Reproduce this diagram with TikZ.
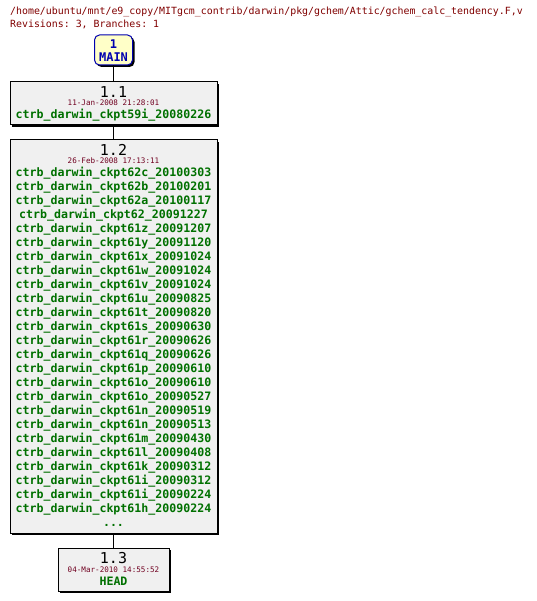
\documentclass[tikz,border=0pt]{standalone}
\usepackage{fontspec}
\setmonofont{DejaVu Sans Mono}
\usetikzlibrary{shadows}
\definecolor{hdrred}{HTML}{800000}
\definecolor{datered}{HTML}{700020}
\definecolor{taggreen}{HTML}{007000}
\definecolor{mainblue}{HTML}{0000B0}
\definecolor{mainfill}{HTML}{FFFFC8}
\definecolor{boxfill}{HTML}{F0F0F0}
\tikzset{
  revbox/.style={draw=black, line width=1pt, fill=boxfill, inner sep=0pt,
    drop shadow={shadow xshift=2pt, shadow yshift=-2pt, fill=black, opacity=1}},
  mainbox/.style={draw=mainblue, line width=1pt, fill=mainfill, rounded corners=5pt, inner sep=0pt,
    drop shadow={shadow xshift=2pt, shadow yshift=-2pt, fill=black, opacity=1}},
  hdr/.style={font=\ttfamily\fontsize{9.9}{10}\selectfont, text=hdrred, inner sep=0pt, anchor=west},
  revnum/.style={font=\ttfamily\fontsize{15}{15}\selectfont, inner sep=0pt},
  datetxt/.style={font=\ttfamily\fontsize{7.6}{8}\selectfont, text=datered, inner sep=0pt},
  tagtxt/.style={font=\ttfamily\bfseries\fontsize{11.6}{12}\selectfont, text=taggreen, inner sep=0pt},
  maintxt/.style={font=\ttfamily\bfseries\fontsize{12}{12}\selectfont, text=mainblue, inner sep=0pt},
  link/.style={draw=black, line width=1pt}
}
\begin{document}
\begin{tikzpicture}[x=1pt, y=-1pt]
\useasboundingbox (0,0) rectangle (536,601);
\node[hdr] (h1) at (10,12) {/home/ubuntu/mnt/e9\_copy/MITgcm\_contrib/darwin/pkg/gchem/Attic/gchem\_calc\_tendency.F,v};
\node[hdr] (h2) at (10,24.5) {Revisions: 3, Branches: 1};
% MAIN
\node[mainbox, minimum width=38pt, minimum height=30pt] (main) at (113.5,50) {};
\node[maintxt] (mainnum) at (113.5,44.5) {1};
\node[maintxt] (mainname) at (113.5,57) {MAIN};
% 1.1
\node[revbox, minimum width=207pt, minimum height=43pt] (r11) at (113.5,103.5) {};
\node[revnum] (r11n) at (113.5,92.5) {1.1};
\node[datetxt] (r11d) at (113.5,102.7) {11-Jan-2008 21:28:01};
\node[tagtxt] (r11t) at (113.5,115) {ctrb\_darwin\_ckpt59i\_20080226};
% 1.2
\node[revbox, minimum width=207pt, minimum height=393pt] (r12) at (113.5,336.5) {};
\node[revnum] (r12n) at (113.5,150) {1.2};
\node[datetxt] (r12d) at (113.5,161) {26-Feb-2008 17:13:11};
\foreach [count=\i from 0] \t in {
ctrb\_darwin\_ckpt62c\_20100303,
ctrb\_darwin\_ckpt62b\_20100201,
ctrb\_darwin\_ckpt62a\_20100117,
ctrb\_darwin\_ckpt62\_20091227,
ctrb\_darwin\_ckpt61z\_20091207,
ctrb\_darwin\_ckpt61y\_20091120,
ctrb\_darwin\_ckpt61x\_20091024,
ctrb\_darwin\_ckpt61w\_20091024,
ctrb\_darwin\_ckpt61v\_20091024,
ctrb\_darwin\_ckpt61u\_20090825,
ctrb\_darwin\_ckpt61t\_20090820,
ctrb\_darwin\_ckpt61s\_20090630,
ctrb\_darwin\_ckpt61r\_20090626,
ctrb\_darwin\_ckpt61q\_20090626,
ctrb\_darwin\_ckpt61p\_20090610,
ctrb\_darwin\_ckpt61o\_20090610,
ctrb\_darwin\_ckpt61o\_20090527,
ctrb\_darwin\_ckpt61n\_20090519,
ctrb\_darwin\_ckpt61n\_20090513,
ctrb\_darwin\_ckpt61m\_20090430,
ctrb\_darwin\_ckpt61l\_20090408,
ctrb\_darwin\_ckpt61k\_20090312,
ctrb\_darwin\_ckpt61i\_20090312,
ctrb\_darwin\_ckpt61i\_20090224,
ctrb\_darwin\_ckpt61h\_20090224}
  \node[tagtxt] (tag\i) at (113.5,{172.7+14*\i}) {\t};
\node[tagtxt] (r12more) at (113.5,525.5) {...};
% 1.3
\node[revbox, minimum width=111pt, minimum height=43pt] (r13) at (113.5,569.5) {};
\node[revnum] (r13n) at (113.5,558.5) {1.3};
\node[datetxt] (r13d) at (113.5,570) {04-Mar-2010 14:55:52};
\node[tagtxt] (r13t) at (113.5,581) {HEAD};
% links
\draw[link] (main.south) -- (r11.north);
\draw[link] (r11.south) -- (r12.north);
\draw[link] (r12.south) -- (r13.north);
\end{tikzpicture}
\end{document}
